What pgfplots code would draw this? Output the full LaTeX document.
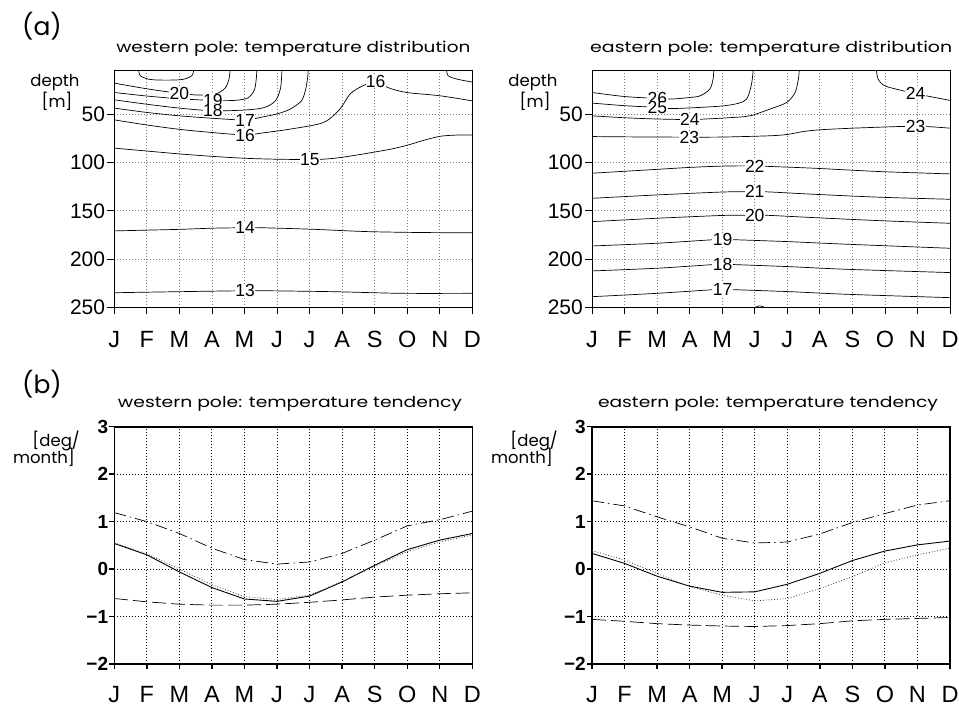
\documentclass[border=0pt]{standalone}
\usepackage{fontspec}
\setmainfont{Liberation Sans}
\newfontfamily\tfont{Poppins}
\usepackage{pgfplots}
\pgfplotsset{compat=1.18}
\begin{document}
\begin{tikzpicture}[x=1pt,y=1pt]
\useasboundingbox (0,0) rectangle (959,707);
\pgfplotsset{
  base/.style={
    scale only axis, width=358pt, height=237.3pt,
    xmin=1, xmax=12, xtick={1,...,12},
    xticklabels={J,F,M,A,M,J,J,A,S,O,N,D},
    xtick pos=bottom, ytick pos=left,
    tick align=outside,
    grid=major,
    x tick label style={font=\fontsize{23.5}{23.5}\selectfont, inner sep=0pt, anchor=north, yshift=-17pt},
    anchor=south west,
  },
  topax/.style={base, y dir=reverse, ymin=4, ymax=250,
    ytick={50,100,150,200,250}, yticklabels={50,100,150,200,250},
    major tick length=7pt,
    axis line style={line width=0.8pt},
    every tick/.style={black, line width=0.8pt},
    major grid style={gray, line width=0.7pt, dash pattern=on 1pt off 2pt},
    y tick label style={font=\fontsize{21}{21}\selectfont, inner sep=0pt, anchor=east, xshift=-2pt},
  },
  botax/.style={base, ymin=-2, ymax=3, ytick={-2,...,3}, yticklabels={−2,−1,0,1,2,3},
    major tick length=5pt, axis line style={line width=1.6pt},
    every tick/.style={black, line width=1.4pt},
    major grid style={black, line width=0.9pt, dash pattern=on 1pt off 2pt},
    y tick label style={font=\fontsize{19}{19}\selectfont\bfseries, inner sep=0pt, anchor=east, xshift=-1pt},
  },
  cont/.style={black, line width=0.7pt, smooth, mark=none},
  lab/.style={only marks, mark=*, mark size=0.1pt, mark options={draw=none, fill=none},
    nodes near coords, point meta=explicit symbolic,
    every node near coord/.append style={anchor=center, fill=white, inner sep=0.4pt, font=\fontsize{17.5}{17.5}\selectfont}},
}
% ---------- (a) western ----------
\begin{axis}[topax, at={(114.3pt,399.7pt)}]
\addplot[cont] coordinates {(1.75,4) (1.8,10) (2.1,13.8) (2.6,14.5) (3.1,13.8) (3.38,10) (3.44,4)};
\addplot[cont] coordinates {(1,17.6) (2,23.5) (3,28.2) (3.6,30) (4.1,29) (4.4,23) (4.52,14) (4.56,4)};
\addplot[cont] coordinates {(1,27.3) (2,31) (3,33.8) (4.03,35.6) (4.7,35.5) (5.1,33) (5.3,25) (5.36,14) (5.38,4)};
\addplot[cont] coordinates {(1,34.9) (2,39.5) (3,43.5) (4.03,46.3) (5,45.5) (5.6,43) (5.95,36) (6.1,24) (6.14,12) (6.15,4)};
\addplot[cont] coordinates {(1,43.5) (2,48) (3,51.5) (4,54) (5.02,55.9) (5.44,53.5) (6,49.5) (6.4,44.6) (6.75,36) (6.88,24) (6.94,12) (6.96,4)};
\addplot[cont] coordinates {(11.21,4) (11.26,10) (11.52,13.4) (12,16.5)};
\addplot[cont] coordinates {(1,55.7) (2,61) (3,65.5) (4,68.8) (5.02,71.4) (5.5,69.5) (6.4,65.3) (7.42,58.5) (7.93,44.6) (8.24,29) (8.6,21) (9.03,16) (9.43,22.5) (9.98,27.3) (11,30.7) (12,36)};
\addplot[cont] coordinates {(1,85) (2,88) (3,91) (4,93.5) (5,95.5) (6,96.5) (7,96.8) (7.5,96.3) (8,94.5) (8.75,90.5) (9.5,86) (10,82) (10.5,77) (11,72.8) (11.5,71.5) (12,71.5)};
\addplot[cont] coordinates {(1,170.8) (3,169.2) (4,168) (5.02,167.5) (5.5,167.5) (7,169) (8.75,171.5) (10.5,172.5) (12,172.7)};
\addplot[cont] coordinates {(1,234.9) (3,233.8) (5.02,232.8) (5.5,232.8) (7.7,233.8) (9.8,235.5) (12,235.5)};
\addplot[lab] coordinates {(3.0,28.2)[20] (4.03,35.6)[19] (4.03,46.3)[18] (5.02,55.9)[17] (5.02,71.4)[16] (9.03,16)[16] (7.01,96.6)[15] (5.02,167.6)[14] (5.02,232.8)[13]};
\end{axis}
% ---------- (a) eastern ----------
\begin{axis}[topax, at={(592pt,399.7pt)}]
\addplot[cont] coordinates {(1,27.3) (2,31.5) (3.01,33.5) (3.5,34) (4,32.5) (4.32,30.8) (4.62,23.8) (4.72,13.5) (4.74,4)};
\addplot[cont] coordinates {(1,38.3) (2,41) (3.01,42.8) (3.4,44) (4.2,43) (5.03,41.2) (5.5,38.5) (5.75,34.2) (5.88,22) (5.93,12) (5.95,4)};
\addplot[cont] coordinates {(1,51.5) (2,53.5) (3,54.8) (4.01,55.4) (4.42,54.9) (5.2,53.5) (5.85,51.5) (6.46,44.6) (6.98,37.7) (7.24,27.3) (7.34,13.5) (7.37,4)};
\addplot[cont] coordinates {(9.74,4) (9.79,13.5) (10,20.4) (10.56,25.6) (10.94,28.5) (11.38,31.5) (12,35.5)};
\addplot[cont] coordinates {(1,73) (2,73.3) (3,73.5) (3.98,73.6) (5,73.5) (6.46,72.2) (7.0,70.8) (7.49,67.8) (8,66) (9.02,64.3) (10.45,62.6) (10.94,62.6) (11.38,62.8) (12,64.3)};
\addplot[cont] coordinates {(1,111) (2,109) (3,107) (4,105) (5.03,103.6) (6,103.4) (6.46,104) (7.8,105.8) (9.85,109.3) (12,111.7)};
\addplot[cont] coordinates {(1,137) (3,133.5) (5,130.5) (6,130.1) (6.5,130.5) (7.8,132.8) (9.85,135.9) (12,138)};
\addplot[cont] coordinates {(1,161.2) (3,157.7) (5,154.8) (6,154.5) (6.5,154.8) (7.8,157) (9.85,160.2) (12,162.9)};
\addplot[cont] coordinates {(1,186.4) (3,183.6) (4.6,180.2) (5.01,179.6) (5.44,180) (7.08,182) (8.82,184.6) (12,188.8)};
\addplot[cont] coordinates {(1,212.3) (3,209.5) (4.6,206) (5.01,205.3) (5.44,205.8) (7.08,207.9) (8.82,210.6) (12,214)};
\addplot[cont] coordinates {(1,239) (3,235.5) (4.6,232) (5.01,231.3) (5.44,231.8) (7.08,233.8) (8.82,236.5) (12,240)};
\addplot[cont] coordinates {(5.95,251) (6.16,248.5) (6.35,251)};
\addplot[lab] coordinates {(3.01,33.4)[26] (3.01,42.6)[25] (4.01,55.4)[24] (3.99,73.6)[23] (10.94,28)[24] (10.94,62.6)[23] (6.0,103.5)[22] (6.0,130.1)[21] (6.0,154.5)[20] (5.01,179.6)[19] (5.01,205.3)[18] (5.01,231.3)[17]};
\end{axis}
% ---------- (b) western ----------
\begin{axis}[botax, at={(114.3pt,43pt)}]
\addplot[black, line width=0.9pt, mark=none] coordinates {(1,0.54) (2,0.30) (3,-0.06) (4,-0.39) (5,-0.63) (6,-0.68) (7,-0.57) (8,-0.27) (9,0.08) (10,0.41) (11,0.61) (12,0.75)};
\addplot[black!80, line width=0.8pt, mark=none, dash pattern=on 0.8pt off 2pt] coordinates {(1,0.55) (2,0.32) (3,0.0) (4,-0.33) (5,-0.58) (6,-0.64) (7,-0.55) (8,-0.26) (9,0.06) (10,0.37) (11,0.57) (12,0.72)};
\addplot[black, line width=0.7pt, mark=none, dash pattern=on 14pt off 5pt] coordinates {(1,-0.62) (2,-0.69) (3,-0.74) (4,-0.76) (5,-0.76) (6,-0.74) (7,-0.70) (8,-0.65) (9,-0.59) (10,-0.55) (11,-0.52) (12,-0.50)};
\addplot[black, line width=0.7pt, mark=none, dash pattern=on 12pt off 4pt on 1.5pt off 4pt] coordinates {(1,1.19) (2,1.0) (3,0.75) (4,0.44) (5,0.2) (6,0.105) (7,0.15) (8,0.33) (9,0.61) (10,0.91) (11,1.04) (12,1.22)};
\end{axis}
% ---------- (b) eastern ----------
\begin{axis}[botax, at={(592pt,43pt)}]
\addplot[black, line width=0.9pt, mark=none] coordinates {(1,0.33) (2,0.12) (3,-0.15) (4,-0.36) (5,-0.49) (6,-0.48) (7,-0.32) (8,-0.09) (9,0.18) (10,0.38) (11,0.51) (12,0.59)};
\addplot[black!80, line width=0.8pt, mark=none, dash pattern=on 0.8pt off 2pt] coordinates {(1,0.39) (2,0.19) (3,-0.09) (4,-0.37) (5,-0.55) (6,-0.67) (7,-0.62) (8,-0.41) (9,-0.16) (10,0.13) (11,0.30) (12,0.44)};
\addplot[black, line width=0.7pt, mark=none, dash pattern=on 14pt off 5pt] coordinates {(1,-1.06) (2,-1.10) (3,-1.15) (4,-1.18) (5,-1.20) (6,-1.21) (7,-1.19) (8,-1.15) (9,-1.09) (10,-1.06) (11,-1.04) (12,-1.02)};
\addplot[black, line width=0.7pt, mark=none, dash pattern=on 12pt off 4pt on 1.5pt off 4pt] coordinates {(1,1.44) (2,1.33) (3,1.10) (4,0.89) (5,0.65) (6,0.55) (7,0.57) (8,0.74) (9,0.98) (10,1.17) (11,1.35) (12,1.44)};
\end{axis}
% ---------- texts ----------
\node[anchor=center, inner sep=0pt, font=\tfont\fontsize{25}{25}\selectfont] at (42,680.5) {(a)};
\node[anchor=center, inner sep=0pt, font=\tfont\fontsize{25}{25}\selectfont] at (42,323) {(b)};
\node[anchor=base, inner sep=0pt] at (293.3,654) {\resizebox{354pt}{\height}{\tfont\fontsize{15}{15}\selectfont western pole: temperature distribution}};
\node[anchor=base, inner sep=0pt] at (771.2,654) {\resizebox{362pt}{\height}{\tfont\fontsize{15}{15}\selectfont eastern pole: temperature distribution}};
\node[anchor=base, inner sep=0pt] at (290,299.7) {\resizebox{344pt}{\height}{\tfont\fontsize{15}{15}\selectfont western pole: temperature tendency}};
\node[anchor=base, inner sep=0pt] at (768,299.7) {\resizebox{340pt}{\height}{\tfont\fontsize{15}{15}\selectfont eastern pole: temperature tendency}};
\node[anchor=base, inner sep=0pt, font=\tfont\fontsize{16.5}{16.5}\selectfont] at (55,620) {depth};
\node[anchor=base, inner sep=0pt, font=\tfont\fontsize{16.5}{16.5}\selectfont] at (57,599) {[m]};
\node[anchor=base, inner sep=0pt, font=\tfont\fontsize{16.5}{16.5}\selectfont] at (533,620) {depth};
\node[anchor=base, inner sep=0pt, font=\tfont\fontsize{16.5}{16.5}\selectfont] at (535,599) {[m]};
\node[anchor=base east, inner sep=0pt, font=\tfont\fontsize{16.5}{16.5}\selectfont] at (80,260) {[deg/};
\node[anchor=base east, inner sep=0pt, font=\tfont\fontsize{16.5}{16.5}\selectfont] at (75,243) {month]};
\node[anchor=base east, inner sep=0pt, font=\tfont\fontsize{16.5}{16.5}\selectfont] at (558,260) {[deg/};
\node[anchor=base east, inner sep=0pt, font=\tfont\fontsize{16.5}{16.5}\selectfont] at (553,243) {month]};
\end{tikzpicture}
\end{document}
